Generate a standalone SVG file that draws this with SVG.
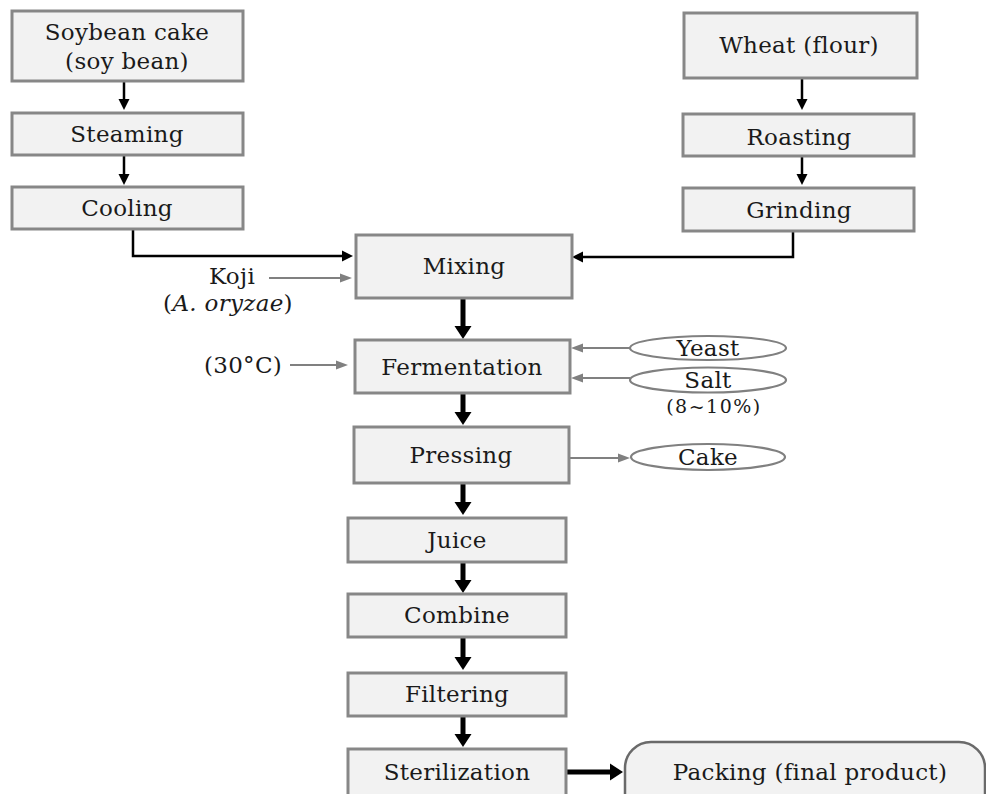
<svg xmlns="http://www.w3.org/2000/svg" width="986" height="794" viewBox="0 0 986 794">
<style>
  .box { fill: #f2f2f2; stroke: #878787; stroke-width: 3; }
  .ell { fill: #ffffff; stroke: #808080; stroke-width: 2.2; }
  .pack { fill: #f2f2f2; stroke: #6a6a6a; stroke-width: 2.5; }
  text { font-family: "DejaVu Serif", "Liberation Serif", serif; font-size: 23px; fill: #1a1a1a; text-anchor: middle; letter-spacing: 0.3px; }
  .small { font-size: 19px; letter-spacing: 1.5px; }
  .thin { fill: none; stroke: #000; stroke-width: 2.5; }
  .thick { fill: none; stroke: #000; stroke-width: 5; }
  .gray { fill: none; stroke: #808080; stroke-width: 2.2; }
</style>
<defs>
  <marker id="ah" markerUnits="userSpaceOnUse" markerWidth="12" markerHeight="12" refX="5" refY="6" orient="auto">
    <path d="M0,0.5 L11,6 L0,11.5 z" fill="#000"/>
  </marker>
  <marker id="ahT" markerUnits="userSpaceOnUse" markerWidth="14" markerHeight="18" refX="6" refY="9" orient="auto">
    <path d="M0,0.5 L13,9 L0,17.5 z" fill="#000"/>
  </marker>
  <marker id="ahG" markerUnits="userSpaceOnUse" markerWidth="13" markerHeight="10" refX="6" refY="5" orient="auto">
    <path d="M0,0.5 L12,5 L0,9.5 z" fill="#808080"/>
  </marker>
</defs>

<g id="connectors">
  <path class="thin" d="M124,81 V104" marker-end="url(#ah)"/>
  <path class="thin" d="M124,155 V179" marker-end="url(#ah)"/>
  <path class="thin" d="M802,78 V104" marker-end="url(#ah)"/>
  <path class="thin" d="M802,156 V179" marker-end="url(#ah)"/>
  <path class="thin" d="M133,229 V256 H347" marker-end="url(#ah)"/>
  <path class="thin" d="M793,231 V257 H578" marker-end="url(#ah)"/>
  <path class="gray" d="M269,278 H346" marker-end="url(#ahG)"/>
  <path class="gray" d="M290,365 H342" marker-end="url(#ahG)"/>
  <path class="gray" d="M630,348 H577" marker-end="url(#ahG)"/>
  <path class="gray" d="M630,378 H577" marker-end="url(#ahG)"/>
  <path class="gray" d="M569,458 H624" marker-end="url(#ahG)"/>
  <path class="thick" d="M463,298 V332" marker-end="url(#ahT)"/>
  <path class="thick" d="M463,393 V418" marker-end="url(#ahT)"/>
  <path class="thick" d="M463,483 V508" marker-end="url(#ahT)"/>
  <path class="thick" d="M463,562 V586" marker-end="url(#ahT)"/>
  <path class="thick" d="M463,637 V663" marker-end="url(#ahT)"/>
  <path class="thick" d="M463,716 V740" marker-end="url(#ahT)"/>
  <path class="thick" d="M566,772 H616" marker-end="url(#ahT)"/>
</g>

<g id="soybean">
  <rect class="box" x="12" y="11" width="231" height="70"/>
  <text x="127" y="40">Soybean cake</text>
  <text x="127" y="69">(soy bean)</text>
</g>
<g id="steaming">
  <rect class="box" x="12" y="113" width="231" height="42"/>
  <text x="127" y="142">Steaming</text>
</g>
<g id="cooling">
  <rect class="box" x="12" y="187" width="231" height="42"/>
  <text x="127" y="216">Cooling</text>
</g>
<g id="wheat">
  <rect class="box" x="684" y="13" width="233" height="65"/>
  <text x="799" y="53">Wheat (flour)</text>
</g>
<g id="roasting">
  <rect class="box" x="683" y="114" width="231" height="42"/>
  <text x="799" y="145">Roasting</text>
</g>
<g id="grinding">
  <rect class="box" x="683" y="188" width="231" height="43"/>
  <text x="799" y="218">Grinding</text>
</g>
<g id="koji">
  <text x="232" y="284">Koji</text>
  <text x="228" y="311">(<tspan font-style="italic">A. oryzae</tspan>)</text>
</g>
<g id="mixing">
  <rect class="box" x="356" y="235" width="216" height="63"/>
  <text x="464" y="274">Mixing</text>
</g>
<g id="temp">
  <text x="243" y="373">(30°C)</text>
</g>
<g id="fermentation">
  <rect class="box" x="355" y="340" width="215" height="53"/>
  <text x="462" y="375">Fermentation</text>
</g>
<g id="yeast">
  <ellipse class="ell" cx="708" cy="348" rx="78" ry="12"/>
  <text x="708" y="356">Yeast</text>
</g>
<g id="salt">
  <ellipse class="ell" cx="708" cy="380" rx="78" ry="12.5"/>
  <text x="708" y="388">Salt</text>
  <text class="small" x="714" y="413">(8~10%)</text>
</g>
<g id="pressing">
  <rect class="box" x="354" y="427" width="215" height="56"/>
  <text x="461" y="463">Pressing</text>
</g>
<g id="cake">
  <ellipse class="ell" cx="708" cy="457" rx="77" ry="13"/>
  <text x="708" y="465">Cake</text>
</g>
<g id="juice">
  <rect class="box" x="348" y="518" width="218" height="44"/>
  <text x="457" y="548">Juice</text>
</g>
<g id="combine">
  <rect class="box" x="348" y="594" width="218" height="43"/>
  <text x="457" y="623">Combine</text>
</g>
<g id="filtering">
  <rect class="box" x="348" y="673" width="218" height="43"/>
  <text x="457" y="702">Filtering</text>
</g>
<g id="sterilization">
  <rect class="box" x="348" y="749" width="218" height="60"/>
  <text x="457" y="780">Sterilization</text>
</g>
<g id="packing">
  <rect class="pack" x="625" y="742" width="360" height="80" rx="26" ry="26"/>
  <text x="810" y="780">Packing (final product)</text>
</g>
</svg>
